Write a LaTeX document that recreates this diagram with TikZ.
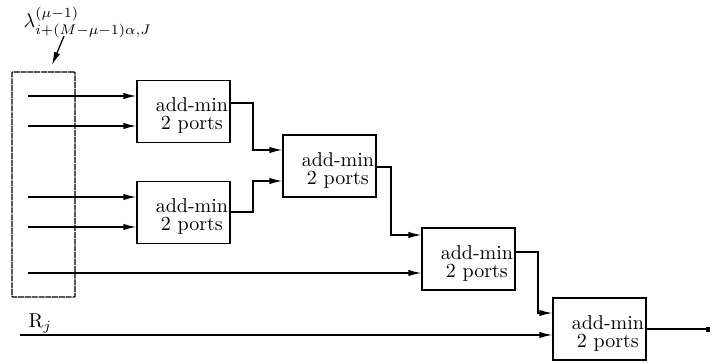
\documentclass[tikz,border=0pt]{standalone}
\usetikzlibrary{arrows.meta}
\begin{document}
\begin{tikzpicture}[x=0.5pt,y=-0.5pt,line width=0.65pt,
  box/.style={draw,minimum width=46.5pt,minimum height=31pt,inner sep=0pt},
  lbl/.style={align=center,inner sep=1pt,anchor=east,yshift=-2.2pt},
  arr/.style={-{Latex[length=6.5pt,width=3.2pt]}},
  bankbox/.style={draw,dash pattern=on 3pt off 0.4pt,minimum width=31.5pt,minimum height=112.5pt,inner sep=0pt,rounded corners=0.4pt}]
\useasboundingbox (0,0) rectangle (712,363);
% label and its arrow
\node[anchor=base west,inner sep=0pt] (lam) at (23,28) {$\lambda^{(\mu-1)}_{i+(M-\mu-1)\alpha,J}$};
\coordinate (la) at (64,36);
\coordinate (lb) at (52,65);
\draw[arr] (la) -- (lb);
% input bank
\node[bankbox] (bank) at (43.5,184.5) {};
% boxes
\node[box] (b1) at (183.5,111.5) {};
\node[lbl] (t1) at (b1.east) {add-min\\[-3pt]2 ports};
\node[box] (b2) at (183.5,212.5) {};
\node[lbl] (t2) at (b2.east) {add-min\\[-3pt]2 ports};
\node[box] (bm) at (329.5,166) {};
\node[lbl] (tm) at (bm.east) {add-min\\[-3pt]2 ports};
\node[box] (b4) at (468.5,259) {};
\node[lbl] (t4) at (b4.east) {add-min\\[-3pt]2 ports};
\node[box] (b5) at (599.5,329) {};
\node[lbl] (t5) at (b5.east) {add-min\\[-3pt]2 ports};
% inputs
\coordinate (i1) at (28,96);
\coordinate (i2) at (28,126);
\coordinate (i3) at (28,197);
\coordinate (i4) at (28,227);
\coordinate (i5) at (28,273);
\coordinate (ir) at (20,335);
\draw[arr] (i1) -- (i1 -| b1.west);
\draw[arr] (i2) -- (i2 -| b1.west);
\draw[arr] (i3) -- (i3 -| b2.west);
\draw[arr] (i4) -- (i4 -| b2.west);
\draw[arr] (i5) -- (i5 -| b4.west);
\draw[arr] (ir) -- (ir -| b5.west);
\node[anchor=base west,inner sep=0pt] (rj) at (28,328) {R$_j$};
% internal connections
\draw[arr] (b1.east |- 0,103) -| (253,150) -- (bm.west |- 0,150);
\draw[arr] (b2.east |- 0,212) -| (253,181) -- (bm.west |- 0,181);
\draw[arr] (bm.east |- 0,167) -| (391,235) -- (b4.west |- 0,235);
\draw[arr] (b4.east |- 0,252) -| (538,313) -- (b5.west |- 0,313);
% output
\coordinate (out) at (710,329);
\draw[-{Square[length=2pt,width=2.5pt]}] (b5.east) -- (out);
\end{tikzpicture}
\end{document}
